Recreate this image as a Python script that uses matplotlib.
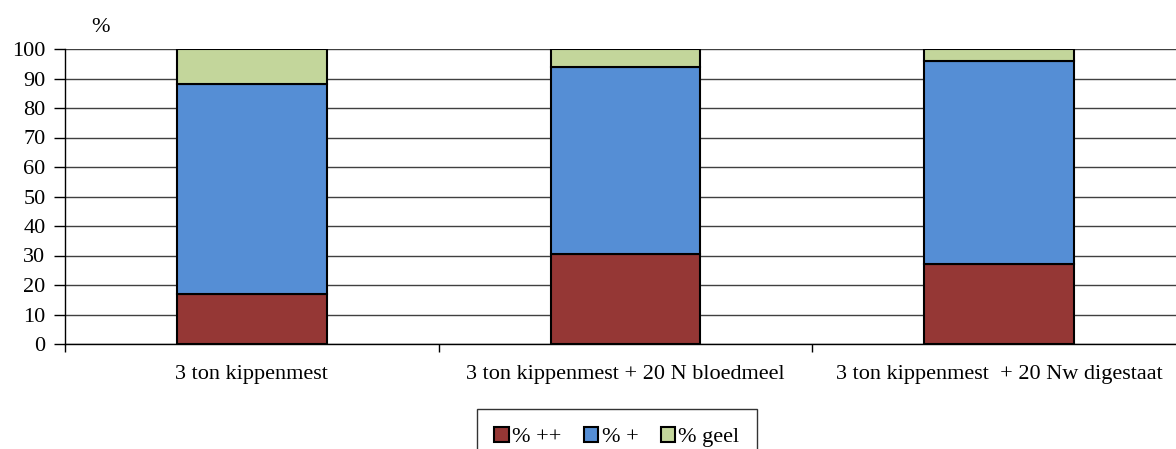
import matplotlib.pyplot as plt
import numpy as np

plt.rcParams['font.family'] = ['Liberation Serif', 'DejaVu Serif']

behandelingen = ['3 ton kippenmest',
                 '3 ton kippenmest + 20 N bloedmeel',
                 '3 ton kippenmest  + 20 Nw digestaat']
pct_plusplus = [17, 30.5, 27]
pct_plus = [71, 63.5, 69]
pct_geel = [12, 6, 4]

series = ['% ++', '% +', '% geel']
kleuren = ['#953735', '#558ED5', '#C3D69B']

fig = plt.figure(figsize=(11.76, 4.49), dpi=100)
ax = fig.add_axes([65 / 1176, 105 / 449, 1121 / 1176, 295 / 449])

x = np.arange(len(behandelingen)) + 0.5
bottom = np.zeros(len(behandelingen))
for vals, kleur, naam in zip([pct_plusplus, pct_plus, pct_geel], kleuren, series):
    ax.bar(x, vals, width=0.4, bottom=bottom, color=kleur,
           edgecolor='black', linewidth=1.5, label=naam, zorder=3)
    bottom += np.array(vals)

ax.set_xlim(0, 3)
ax.set_ylim(0, 100)
ax.set_yticks(np.arange(0, 101, 10))
ax.yaxis.grid(True, color='#404040', linewidth=1, zorder=0)
ax.set_axisbelow(True)

fs = 16
ax.set_xticks(x)
ax.set_xticklabels(behandelingen)
ax.set_xticks(np.arange(0, 4), minor=True)
ax.tick_params(axis='x', which='major', length=0, pad=15, labelsize=fs)
ax.tick_params(axis='x', which='minor', length=6, width=1, direction='out')
ax.tick_params(axis='y', length=8, width=1, labelsize=fs, pad=6)

for s in ['top', 'right']:
    ax.spines[s].set_visible(False)
for s in ['left', 'bottom']:
    ax.spines[s].set_linewidth(1)
    ax.spines[s].set_color('black')

fig.text(100 / 1176, 1 - 27 / 449, '%', fontsize=fs, ha='center', va='center')

leg = fig.legend(loc='upper center', bbox_to_anchor=(617 / 1176, 1 - 398 / 449),
                 ncol=3, fontsize=fs, frameon=True, fancybox=False,
                 edgecolor='black', handlelength=0.65, handleheight=0.65,
                 handletextpad=0.15, columnspacing=1.0, borderpad=0.8)
leg.get_frame().set_linewidth(1)

fig.savefig('out.png', dpi=100)
